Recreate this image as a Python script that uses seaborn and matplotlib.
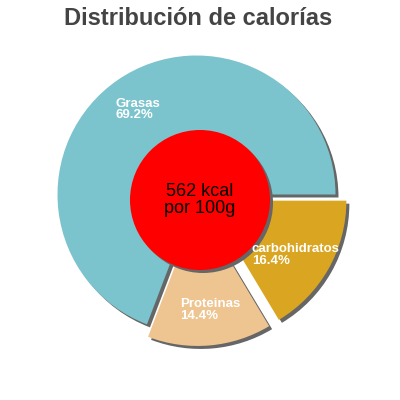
import matplotlib
matplotlib.use('Agg')
import matplotlib.pyplot as plt
import seaborn as sns
from matplotlib.patches import Circle

# ---- data ----
categories = ['Grasas', 'Proteinas', 'carbohidratos']
percentages = [69.2, 14.4, 16.4]
slice_colors = ['#7bc4cd', '#eec591', '#daa520']
title_text = 'Distribución de calorías'
energy_text = '562 kcal'
per_text = 'por 100g'

sns.set_theme(style='white')
plt.rcParams['font.family'] = ['Liberation Sans', 'DejaVu Sans']

W = H = 400
fig = plt.figure(figsize=(4, 4), dpi=100)
ax = fig.add_axes([0, 0, 1, 1])

def Y(py):
    return H - py

cx, cy, r = 196.5, Y(194.5), 139
explode = [0, 12.5, 12.5]   # offset in pixels
shadow_col = '#666666'
sdx, sdy = 3, -3

# shadows
ax.pie(percentages, center=(cx + sdx, cy + sdy), radius=r, startangle=0,
       counterclock=True, explode=explode, colors=[shadow_col] * len(percentages),
       wedgeprops=dict(linewidth=0), frame=True)
# slices
ax.pie(percentages, center=(cx, cy), radius=r, startangle=0,
       counterclock=True, explode=explode, colors=sns.color_palette(slice_colors),
       wedgeprops=dict(linewidth=0), frame=True)

# center circle
ax.add_patch(Circle((200 + sdx, Y(200) + sdy), 70, facecolor=shadow_col, linewidth=0))
ax.add_patch(Circle((200, Y(200)), 70, facecolor='#ff0000', linewidth=0))

ax.set_xlim(0, W)
ax.set_ylim(0, H)
ax.axis('off')

# center text
ax.text(200, Y(196), energy_text, ha='center', va='baseline', fontsize=13, color='black')
ax.text(200, Y(213.3), per_text, ha='center', va='baseline', fontsize=13, color='black')

# slice labels
label_pos = [(116, 106.7), (180, 307.3), (251.7, 252.3)]
for name, pct, (lx, ly) in zip(categories, percentages, label_pos):
    ax.text(lx, Y(ly), name, ha='left', va='baseline', fontsize=9.5,
            fontweight='bold', color='white')
    ax.text(lx, Y(ly + 11.5), f'{pct:.1f}%', ha='left', va='baseline', fontsize=9.5,
            fontweight='bold', color='white')

# title
ax.text(198, Y(25), title_text, ha='center', va='baseline', fontsize=17,
        fontweight='bold', color='#444444')

fig.savefig('out.png', dpi=100)
